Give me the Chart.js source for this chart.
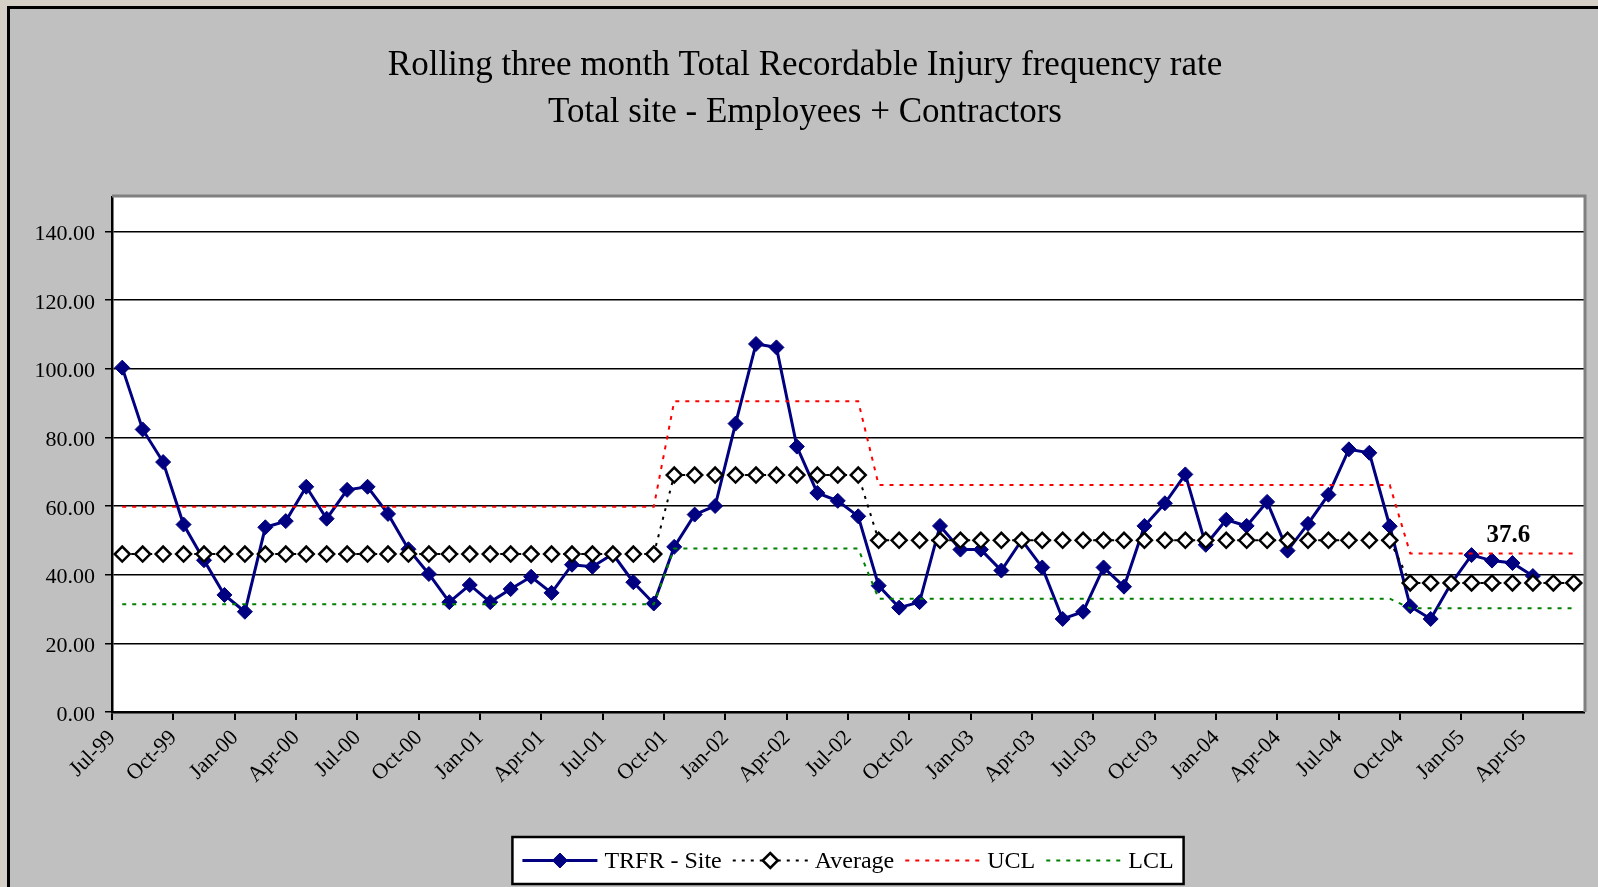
<!DOCTYPE html>
<html>
<head>
<meta charset="utf-8">
<script src="https://cdn.jsdelivr.net/npm/chart.js"></script>
<style>
  html, body { margin: 0; padding: 0; background: #c0c0c0; }
  canvas { display: block; }
</style>
</head>
<body>
<canvas id="chart" width="1598" height="887"></canvas>
<script>
// month categories, Jul-99 .. Jun-05
const months = [
  'Jul-99','Aug-99','Sep-99','Oct-99','Nov-99','Dec-99',
  'Jan-00','Feb-00','Mar-00','Apr-00','May-00','Jun-00','Jul-00','Aug-00','Sep-00','Oct-00','Nov-00','Dec-00',
  'Jan-01','Feb-01','Mar-01','Apr-01','May-01','Jun-01','Jul-01','Aug-01','Sep-01','Oct-01','Nov-01','Dec-01',
  'Jan-02','Feb-02','Mar-02','Apr-02','May-02','Jun-02','Jul-02','Aug-02','Sep-02','Oct-02','Nov-02','Dec-02',
  'Jan-03','Feb-03','Mar-03','Apr-03','May-03','Jun-03','Jul-03','Aug-03','Sep-03','Oct-03','Nov-03','Dec-03',
  'Jan-04','Feb-04','Mar-04','Apr-04','May-04','Jun-04','Jul-04','Aug-04','Sep-04','Oct-04','Nov-04','Dec-04',
  'Jan-05','Feb-05','Mar-05','Apr-05','May-05','Jun-05'
];

const trfrSite = [
  100.3, 82.3, 72.8, 54.6, 44.2, 34.1,
  29.2, 53.8, 55.6, 65.6, 56.3, 64.7, 65.6, 57.7, 47.4, 40.2, 32.0, 37.0,
  32.0, 35.8, 39.4, 34.7, 42.9, 42.3, 46.0, 37.8, 31.6, 48.1, 57.5, 60.0,
  84.0, 107.2, 106.2, 77.3, 63.8, 61.5, 57.0, 36.8, 30.4, 32.0, 54.2, 47.3,
  47.3, 41.2, 50.1, 42.1, 27.1, 29.2, 42.1, 36.5, 54.2, 60.8, 69.2, 48.7,
  56.0, 54.2, 61.2, 47.0, 54.8, 63.3, 76.5, 75.5, 54.1, 30.8, 27.1, 37.4,
  45.7, 44.1, 43.4, 39.6, null, null
];

const average = [
  46, 46, 46, 46, 46, 46,
  46, 46, 46, 46, 46, 46, 46, 46, 46, 46, 46, 46,
  46, 46, 46, 46, 46, 46, 46, 46, 46, 69, 69, 69,
  69, 69, 69, 69, 69, 69, 69, 50, 50, 50, 50, 50,
  50, 50, 50, 50, 50, 50, 50, 50, 50, 50, 50, 50,
  50, 50, 50, 50, 50, 50, 50, 50, 50, 37.6, 37.6, 37.6,
  37.6, 37.6, 37.6, 37.6, 37.6, 37.6
];

const ucl = [
  59.8, 59.8, 59.8, 59.8, 59.8, 59.8,
  59.8, 59.8, 59.8, 59.8, 59.8, 59.8, 59.8, 59.8, 59.8, 59.8, 59.8, 59.8,
  59.8, 59.8, 59.8, 59.8, 59.8, 59.8, 59.8, 59.8, 59.8, 90.5, 90.5, 90.5,
  90.5, 90.5, 90.5, 90.5, 90.5, 90.5, 90.5, 66.1, 66.1, 66.1, 66.1, 66.1,
  66.1, 66.1, 66.1, 66.1, 66.1, 66.1, 66.1, 66.1, 66.1, 66.1, 66.1, 66.1,
  66.1, 66.1, 66.1, 66.1, 66.1, 66.1, 66.1, 66.1, 66.1, 46.2, 46.2, 46.2,
  46.2, 46.2, 46.2, 46.2, 46.2, 46.2
];

const lcl = [
  31.4, 31.4, 31.4, 31.4, 31.4, 31.4,
  31.4, 31.4, 31.4, 31.4, 31.4, 31.4, 31.4, 31.4, 31.4, 31.4, 31.4, 31.4,
  31.4, 31.4, 31.4, 31.4, 31.4, 31.4, 31.4, 31.4, 31.4, 47.6, 47.6, 47.6,
  47.6, 47.6, 47.6, 47.6, 47.6, 47.6, 47.6, 33.0, 33.0, 33.0, 33.0, 33.0,
  33.0, 33.0, 33.0, 33.0, 33.0, 33.0, 33.0, 33.0, 33.0, 33.0, 33.0, 33.0,
  33.0, 33.0, 33.0, 33.0, 33.0, 33.0, 33.0, 33.0, 33.0, 30.2, 30.2, 30.2,
  30.2, 30.2, 30.2, 30.2, 30.2, 30.2
];

const titleLines = [
  'Rolling three month Total Recordable Injury frequency rate',
  'Total site - Employees + Contractors'
];

// the "37.6" note, hung above the last average segment
const noteText = '37.6';
const noteIndex = 68;
const noteValue = 51.5;

const serif = '"Liberation Serif", "Times New Roman", serif';

// window frame, silver chart area and white plot area
const backdrop = {
  id: 'backdrop',
  beforeDraw(chart) {
    const ctx = chart.ctx;
    const a = chart.chartArea;
    ctx.save();
    ctx.fillStyle = '#d4d0c8';
    ctx.fillRect(0, 0, chart.width, chart.height);
    ctx.fillStyle = '#000';
    ctx.fillRect(7, 6, chart.width, chart.height);
    ctx.fillStyle = '#c0c0c0';
    ctx.fillRect(10, 9, chart.width, chart.height);
    ctx.fillStyle = '#fff';
    ctx.fillRect(a.left, a.top, a.right - a.left, a.bottom - a.top);
    ctx.restore();
  },
  beforeDatasetsDraw(chart) {
    const ctx = chart.ctx;
    const a = chart.chartArea;
    ctx.save();
    ctx.strokeStyle = '#808080';
    ctx.lineWidth = 3;
    ctx.beginPath();
    ctx.moveTo(a.left, a.top - 1);
    ctx.lineTo(a.right + 1, a.top - 1);
    ctx.lineTo(a.right + 1, a.bottom);
    ctx.stroke();
    ctx.restore();
  }
};

function diamond(ctx, x, y, r) {
  ctx.beginPath();
  ctx.moveTo(x - r, y);
  ctx.lineTo(x, y - r);
  ctx.lineTo(x + r, y);
  ctx.lineTo(x, y + r);
  ctx.closePath();
}

// Excel style legend: line sample + marker, boxed, under the plot
const boxLegend = {
  id: 'boxLegend',
  afterDraw(chart) {
    const ctx = chart.ctx;
    const a = chart.chartArea;
    const sampleW = 75, gapText = 7, gapItem = 11, pad = 10, h = 47;
    ctx.save();
    ctx.font = '24px ' + serif;
    const items = chart.data.datasets.map(ds => ({ ds: ds, w: ctx.measureText(ds.label).width }));
    let total = pad * 2;
    items.forEach((it, i) => {
      total += sampleW + gapText + it.w + (i < items.length - 1 ? gapItem : 0);
    });
    const left = (a.left + a.right) / 2 - total / 2;
    const top = chart.height - 50;
    ctx.fillStyle = '#fff';
    ctx.fillRect(left, top, total, h);
    ctx.strokeStyle = '#000';
    ctx.lineWidth = 2.5;
    ctx.strokeRect(left, top, total, h);

    let x = left + pad;
    const y = top + h / 2;
    items.forEach(it => {
      const ds = it.ds;
      ctx.save();
      ctx.strokeStyle = ds.borderColor;
      ctx.lineWidth = ds.borderWidth;
      ctx.setLineDash(ds.borderDash || []);
      ctx.beginPath();
      ctx.moveTo(x, y);
      ctx.lineTo(x + sampleW, y);
      ctx.stroke();
      ctx.restore();
      if (ds.pointRadius > 0) {
        diamond(ctx, x + sampleW / 2, y, ds.pointRadius);
        ctx.fillStyle = ds.pointBackgroundColor;
        ctx.fill();
        ctx.strokeStyle = ds.pointBorderColor;
        ctx.lineWidth = ds.pointBorderWidth;
        ctx.stroke();
      }
      x += sampleW + gapText;
      ctx.fillStyle = '#000';
      ctx.textAlign = 'left';
      ctx.textBaseline = 'middle';
      ctx.fillText(ds.label, x, y + 1);
      x += it.w + gapItem;
    });
    ctx.restore();
  }
};

const note = {
  id: 'note',
  afterDatasetsDraw(chart) {
    const ctx = chart.ctx;
    ctx.save();
    ctx.font = 'bold 25px ' + serif;
    ctx.fillStyle = '#000';
    ctx.textAlign = 'center';
    ctx.textBaseline = 'middle';
    ctx.fillText(noteText, chart.scales.x.getPixelForValue(noteIndex) - 4, chart.scales.y.getPixelForValue(noteValue));
    ctx.restore();
  }
};

const chart = new Chart(document.getElementById('chart').getContext('2d'), {
  type: 'line',
  data: {
    labels: months,
    datasets: [
      {
        label: 'TRFR - Site',
        data: trfrSite,
        borderColor: '#000080',
        borderWidth: 3,
        pointStyle: 'rectRot',
        pointRadius: 7.5,
        pointBackgroundColor: '#000080',
        pointBorderColor: '#000080',
        pointBorderWidth: 1,
        tension: 0,
        order: 4
      },
      {
        label: 'Average',
        data: average,
        borderColor: '#000',
        borderWidth: 2,
        borderDash: [3, 6],
        pointStyle: 'rectRot',
        pointRadius: 7.5,
        pointBackgroundColor: '#fff',
        pointBorderColor: '#000',
        pointBorderWidth: 2.5,
        tension: 0,
        order: 1
      },
      {
        label: 'UCL',
        data: ucl,
        borderColor: '#ff0000',
        borderWidth: 2,
        borderDash: [4, 6],
        pointRadius: 0,
        tension: 0,
        order: 2
      },
      {
        label: 'LCL',
        data: lcl,
        borderColor: '#008000',
        borderWidth: 2,
        borderDash: [4, 6],
        pointRadius: 0,
        tension: 0,
        order: 3
      }
    ]
  },
  options: {
    responsive: false,
    animation: false,
    events: [],
    layout: { padding: { left: 26, right: 14, top: 0, bottom: 0 } },
    plugins: {
      legend: { display: false },
      tooltip: { enabled: false },
      title: {
        display: true,
        text: titleLines,
        color: '#000',
        font: { family: serif, size: 35, weight: 'normal', lineHeight: 1.343 },
        padding: { top: 42, bottom: 61 }
      }
    },
    scales: {
      x: {
        offset: true,
        grid: {
          offset: true,
          drawOnChartArea: false,
          tickLength: 8,
          lineWidth: 2,
          color: ctx => (ctx.index % 3 === 0 ? '#000' : 'rgba(0,0,0,0)')
        },
        border: { color: '#000', width: 2.5 },
        ticks: {
          autoSkip: false,
          minRotation: 45,
          maxRotation: 45,
          labelOffset: -10,
          padding: 5,
          color: '#000',
          font: { family: serif, size: 22 },
          callback: (v, i) => (i % 3 === 0 ? months[i] : '')
        },
        afterFit: s => { s.height = 175; }
      },
      y: {
        min: 0,
        max: 150,
        grid: { color: '#000', lineWidth: 1.5, tickLength: 7 },
        border: { color: '#000', width: 2.5 },
        ticks: {
          stepSize: 20,
          padding: 10,
          labelOffset: 3,
          color: '#000',
          font: { family: serif, size: 22 },
          callback: v => v.toFixed(2)
        },
        afterBuildTicks: s => { s.ticks = s.ticks.filter(t => t.value <= 140); },
        afterFit: s => { s.width = 86; }
      }
    }
  },
  plugins: [backdrop, note, boxLegend]
});
</script>
</body>
</html>
